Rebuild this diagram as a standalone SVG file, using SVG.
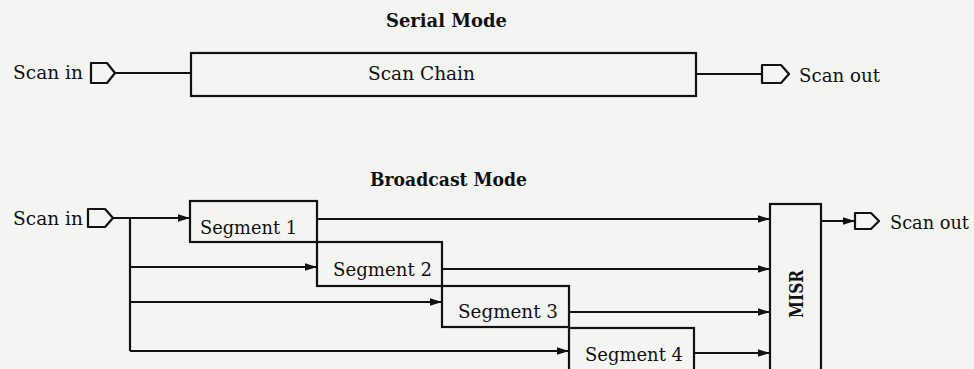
<svg xmlns="http://www.w3.org/2000/svg" width="974" height="369" viewBox="0 0 974 369">
<defs>
<style>
.bg{fill:#f4f4f2}
.box{fill:none;stroke:#111;stroke-width:2.2}
.port{fill:none;stroke:#111;stroke-width:2.2;stroke-linejoin:round}
.wire{fill:none;stroke:#111;stroke-width:2.2}
.t{font-family:"DejaVu Serif","Liberation Serif",serif;font-size:19px;fill:#111}
.title{font-family:"DejaVu Serif","Liberation Serif",serif;font-size:19px;font-weight:bold;fill:#111}
.misr{font-family:"DejaVu Serif","Liberation Serif",serif;font-size:18px;font-weight:bold;fill:#111}
</style>
<marker id="arr" markerWidth="12" markerHeight="9" refX="12" refY="4.5" orient="auto" markerUnits="userSpaceOnUse">
<path d="M0,0.8 L12,4.5 L0,8.2 Z" fill="#111"/>
</marker>
</defs>
<rect class="bg" x="0" y="0" width="974" height="369"/>

<g id="serial-title"><text class="title" x="386" y="27" textLength="121" lengthAdjust="spacingAndGlyphs">Serial Mode</text></g>
<g id="serial-in">
<text class="t" x="13" y="79" textLength="70" lengthAdjust="spacingAndGlyphs">Scan in</text>
<path class="port" d="M91,63 H107 L115,73 L107,83 H91 Z"/>
</g>
<g id="scan-chain">
<rect class="box" x="191" y="53" width="505" height="43"/>
<text class="t" x="368" y="80" textLength="107" lengthAdjust="spacingAndGlyphs">Scan Chain</text>
</g>
<g id="serial-out">
<path class="port" d="M762,65 H781 L789,74 L781,83 H762 Z"/>
<text class="t" x="799" y="82" textLength="81" lengthAdjust="spacingAndGlyphs">Scan out</text>
</g>

<g id="broadcast-title"><text class="title" x="370" y="186" textLength="157" lengthAdjust="spacingAndGlyphs">Broadcast Mode</text></g>
<g id="broadcast-in">
<text class="t" x="13" y="225" textLength="70" lengthAdjust="spacingAndGlyphs">Scan in</text>
<path class="port" d="M88,209 H105 L113,218 L105,227 H88 Z"/>
</g>
<g id="segment1">
<rect class="box" x="190" y="201" width="127" height="41"/>
<text class="t" x="200" y="234" textLength="97" lengthAdjust="spacingAndGlyphs">Segment 1</text>
</g>
<g id="segment2">
<rect class="box" x="317" y="242" width="125" height="44"/>
<text class="t" x="333" y="276" textLength="99" lengthAdjust="spacingAndGlyphs">Segment 2</text>
</g>
<g id="segment3">
<rect class="box" x="442" y="286" width="127" height="41"/>
<text class="t" x="458" y="318" textLength="100" lengthAdjust="spacingAndGlyphs">Segment 3</text>
</g>
<g id="segment4">
<rect class="box" x="569" y="328" width="125" height="46"/>
<text class="t" x="585" y="361" textLength="98" lengthAdjust="spacingAndGlyphs">Segment 4</text>
</g>
<g id="misr">
<rect class="box" x="770" y="204" width="51" height="170"/>
<text class="misr" transform="translate(803,294) rotate(-90)" text-anchor="middle" textLength="48" lengthAdjust="spacingAndGlyphs">MISR</text>
</g>
<g id="broadcast-out">
<path class="port" d="M855,213 H871 L879,221 L871,229 H855 Z"/>
<text class="t" x="890" y="229" textLength="79" lengthAdjust="spacingAndGlyphs">Scan out</text>
</g>

<g id="connectors">
<line class="wire" x1="115" y1="73" x2="191" y2="73"/>
<line class="wire" x1="696" y1="74" x2="762" y2="74"/>
<line class="wire" x1="113" y1="218" x2="190" y2="218" marker-end="url(#arr)"/>
<line class="wire" x1="130" y1="218" x2="130" y2="351"/>
<line class="wire" x1="130" y1="267" x2="317" y2="267" marker-end="url(#arr)"/>
<line class="wire" x1="130" y1="302" x2="442" y2="302" marker-end="url(#arr)"/>
<line class="wire" x1="130" y1="351" x2="569" y2="351" marker-end="url(#arr)"/>
<line class="wire" x1="317" y1="219" x2="770" y2="219" marker-end="url(#arr)"/>
<line class="wire" x1="442" y1="269" x2="770" y2="269" marker-end="url(#arr)"/>
<line class="wire" x1="569" y1="312" x2="770" y2="312" marker-end="url(#arr)"/>
<line class="wire" x1="694" y1="353" x2="770" y2="353" marker-end="url(#arr)"/>
<line class="wire" x1="821" y1="221" x2="855" y2="221" marker-end="url(#arr)"/>
</g>
</svg>
